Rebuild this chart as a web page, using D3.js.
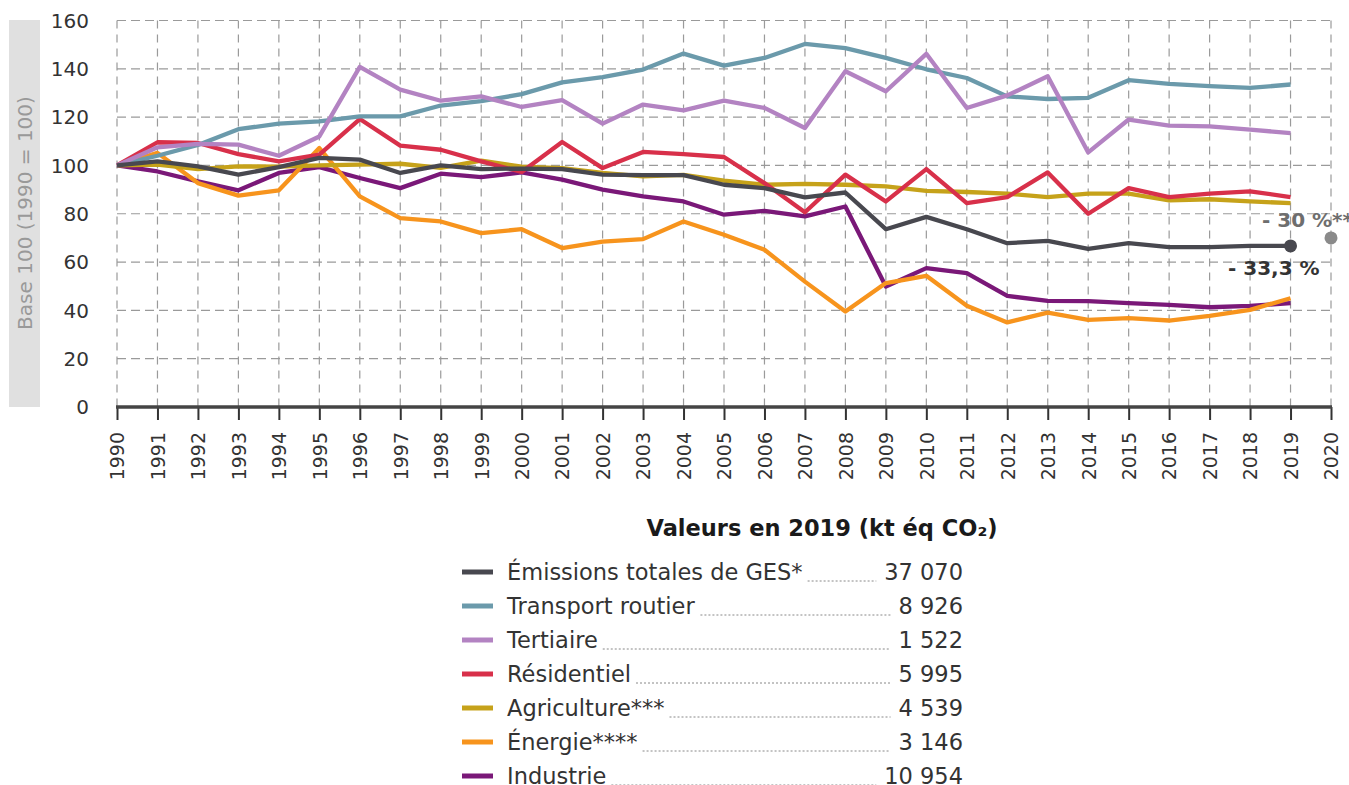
<html>
<meta charset="utf-8">
<style type="text/css">
  body { margin: 0; background: #fff; }
  svg text { font-family: "DejaVu Sans", sans-serif; }
</style>
<body>
<script src="https://d3js.org/d3.v7.min.js"></script>
<div id="chart"></div>
<script>
  // data (base 100 = 1990)
  const years = d3.range(1990, 2020);
  const total       = [100, 101.7, 99.6, 96.2, 99.3, 103.1, 102.4, 96.9, 100, 98.5, 98.7, 98.5, 96.2, 96, 96, 92, 90.6, 86.8, 88.8, 73.6, 78.7, 73.6, 67.8, 68.8, 65.5, 67.8, 66.2, 66.2, 66.7, 66.7];
  const transport   = [100, 104, 108.5, 115, 117.3, 118.2, 120.3, 120.3, 124.8, 126.6, 129.5, 134.4, 136.6, 139.7, 146.3, 141.3, 144.5, 150.3, 148.6, 144.5, 139.8, 136.2, 128.6, 127.5, 128, 135.3, 133.8, 132.8, 132.1, 133.5];
  const tertiaire   = [100, 107.5, 108.9, 108.6, 104, 112, 140.8, 131.4, 126.8, 128.6, 124.2, 127, 117.3, 125.2, 122.8, 126.8, 123.8, 115.5, 139, 130.7, 146.2, 123.8, 129, 136.9, 105.4, 119, 116.5, 116.2, 114.8, 113.4];
  const residentiel = [100, 109.6, 109.3, 104.7, 101.7, 104.5, 119.2, 108.2, 106.5, 101.7, 97.3, 109.7, 98.9, 105.6, 104.7, 103.5, 92.7, 80.6, 96.2, 85.1, 98.5, 84.4, 86.9, 97.1, 80, 90.6, 86.9, 88.3, 89.3, 86.9];
  const agriculture = [100, 100.3, 98.5, 99.6, 99.5, 100, 100.3, 100.7, 99, 102, 99.5, 98.9, 96.9, 95.5, 96.1, 93.7, 92, 92.4, 92, 91.3, 89.5, 89, 88.3, 86.9, 88.3, 88.3, 85.5, 86, 85.1, 84.4];
  const energie     = [100, 105.2, 92.7, 87.5, 89.7, 107.2, 87.2, 78.2, 76.8, 72, 73.6, 65.8, 68.5, 69.5, 76.8, 71.3, 65.1, 51.9, 39.5, 51.3, 54.3, 41.9, 35, 39.1, 36.1, 36.8, 35.8, 37.7, 40.2, 45];
  const industrie   = [100, 97.5, 93.4, 89.7, 96.9, 99.3, 94.8, 90.6, 96.6, 95.2, 97.1, 94.1, 90, 87.2, 85.1, 79.6, 81.2, 78.9, 83, 49.9, 57.5, 55.4, 46, 43.9, 43.8, 43, 42.3, 41.3, 41.9, 43];

  const labels  = ["Émissions totales de GES*", "Transport routier", "Tertiaire", "Résidentiel", "Agriculture***", "Énergie****", "Industrie"];
  const values2019 = ["37 070", "8 926", "1 522", "5 995", "4 539", "3 146", "10 954"];
  const colors  = ["#48484f", "#6b9aab", "#b383c2", "#d8304a", "#c6a21a", "#f7941d", "#7a1878"];
  const seriesData = [total, transport, tertiaire, residentiel, agriculture, energie, industrie];

  const yTicks = [0, 20, 40, 60, 80, 100, 120, 140, 160];
  const xTicks = d3.range(1990, 2021);
  const target2020 = 70;   // -30 % objective

  const width = 1349, height = 785;
  const svg = d3.select("#chart").append("svg")
    .attr("width", width)
    .attr("height", height);

  const x = d3.scaleLinear().domain([1990, 2020]).range([117, 1331]);
  const y = d3.scaleLinear().domain([0, 160]).range([407, 20.5]);

  // y title with grey band
  svg.append("rect")
    .attr("x", 9).attr("y", 20)
    .attr("width", 31).attr("height", 387)
    .style("fill", "#e0e0e0");
  svg.append("text")
    .attr("transform", "translate(25," + (213) + ") rotate(-90)")
    .attr("text-anchor", "middle")
    .attr("dy", "0.36em")
    .style("font-size", "20px")
    .style("fill", "#999")
    .text("Base 100 (1990 = 100)");

  // grid
  svg.append("g").selectAll("line")
    .data(yTicks.filter(d => d > 0))
    .join("line")
    .attr("x1", x(1990)).attr("x2", x(2020))
    .attr("y1", d => y(d)).attr("y2", d => y(d))
    .style("stroke", "#9a9a9a")
    .style("stroke-width", 1.2)
    .style("stroke-dasharray", "9,5");
  svg.append("g").selectAll("line")
    .data(xTicks)
    .join("line")
    .attr("x1", d => x(d)).attr("x2", d => x(d))
    .attr("y1", y(160)).attr("y2", y(0))
    .style("stroke", "#9a9a9a")
    .style("stroke-width", 1.2)
    .style("stroke-dasharray", "8,6");

  // y tick labels
  svg.append("g").selectAll("text")
    .data(yTicks)
    .join("text")
    .attr("x", 89)
    .attr("y", d => y(d))
    .attr("dy", "0.36em")
    .attr("text-anchor", "end")
    .style("font-size", "20px")
    .style("fill", "#333")
    .text(d => d);

  // x axis
  const xAxis = d3.axisBottom(x)
    .tickValues(xTicks)
    .tickFormat(d3.format("d"))
    .tickSize(13)
    .tickPadding(11);
  const gx = svg.append("g")
    .attr("transform", "translate(0," + y(0) + ")")
    .call(xAxis);
  gx.select(".domain").remove();
  gx.selectAll(".tick line").style("stroke", "#333").style("stroke-width", 2);
  gx.selectAll(".tick text")
    .attr("transform", "rotate(-90)")
    .attr("x", -25).attr("y", 0).attr("dy", "0.36em")
    .attr("text-anchor", "end")
    .style("font-family", "DejaVu Sans")
    .style("font-size", "19px")
    .style("fill", "#333");
  svg.append("line")
    .attr("x1", x(1990) - 1).attr("x2", x(2020) + 1)
    .attr("y1", y(0)).attr("y2", y(0))
    .style("stroke", "#444")
    .style("stroke-width", 3.5);

  // lines
  const line = d3.line()
    .x((d, i) => x(years[i]))
    .y(d => y(d));
  const drawOrder = [6, 5, 4, 3, 1, 2, 0];
  svg.append("g").selectAll("path")
    .data(drawOrder)
    .join("path")
    .attr("d", k => line(seriesData[k]))
    .style("fill", "none")
    .style("stroke", k => colors[k])
    .style("stroke-width", 4.3)
    .style("stroke-linejoin", "round");

  // end point and target
  svg.append("circle")
    .attr("cx", x(2019)).attr("cy", y(total[total.length - 1]))
    .attr("r", 6.5).style("fill", colors[0]);
  svg.append("circle")
    .attr("cx", x(2020)).attr("cy", y(target2020))
    .attr("r", 6.5).style("fill", "#8a8a8a");
  svg.append("text")
    .attr("x", 1262).attr("y", 227)
    .style("font-size", "20px").style("font-weight", "bold")
    .style("fill", "#6e6e6e")
    .text("- 30 %**");
  svg.append("text")
    .attr("x", 1228).attr("y", 275)
    .style("font-size", "20px").style("font-weight", "bold")
    .style("fill", "#333")
    .text("- 33,3 %");

  // legend
  svg.append("text")
    .attr("x", 822).attr("y", 536)
    .attr("text-anchor", "middle")
    .style("font-size", "22.5px").style("font-weight", "bold")
    .style("fill", "#1a1a1a")
    .text("Valeurs en 2019 (kt éq CO₂)");

  const rows = svg.append("g").selectAll("g")
    .data(labels)
    .join("g")
    .attr("transform", (d, i) => "translate(0," + (572 + i * 34) + ")");
  rows.append("line")
    .attr("x1", 462).attr("x2", 493)
    .style("stroke", (d, i) => colors[i])
    .style("stroke-width", 5);
  const lab = rows.append("text")
    .attr("x", 507).attr("dy", "0.36em")
    .style("font-size", "22.5px").style("fill", "#333")
    .text(d => d);
  const val = rows.append("text")
    .attr("x", 963).attr("dy", "0.36em")
    .attr("text-anchor", "end")
    .style("font-size", "22.5px").style("fill", "#333")
    .text((d, i) => values2019[i]);
  rows.each(function (d, i) {
    const g = d3.select(this);
    const a = lab.nodes()[i].getBBox();
    const b = val.nodes()[i].getBBox();
    g.append("line")
      .attr("x1", a.x + a.width + 5).attr("x2", b.x - 8)
      .attr("y1", 9).attr("y2", 9)
      .style("stroke", "#888")
      .style("stroke-width", 1)
      .style("stroke-dasharray", "2,2");
  });
</script>
</body>
</html>
